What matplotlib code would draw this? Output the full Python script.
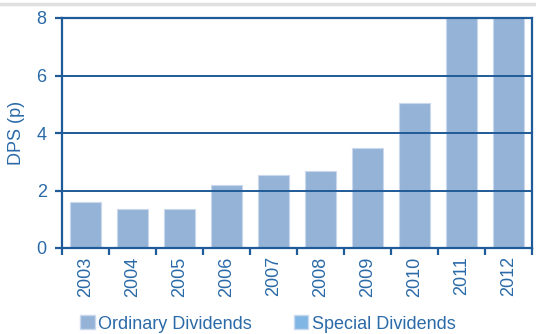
import matplotlib
matplotlib.use('Agg')
import matplotlib.pyplot as plt
from matplotlib.patches import Patch
from matplotlib.lines import Line2D

years = ['2003', '2004', '2005', '2006', '2007', '2008', '2009', '2010', '2011', '2012']
ordinary = [1.6, 1.35, 1.35, 2.2, 2.55, 2.68, 3.48, 5.05, 8.6, 8.6]
special = [0, 0, 0, 0, 0, 0, 0, 0, 0, 0]

plt.rcParams['font.family'] = ['Liberation Sans', 'DejaVu Sans']
blue = '#1f5b98'
txt = '#2a6aa8'

fig = plt.figure(figsize=(5.36, 3.34), dpi=100)
ax = fig.add_axes([62/536, 1 - 248/334, 470/536, 230/334])

x = range(len(years))
ax.bar(x, ordinary, width=0.68, color='#95b3d7', edgecolor='#c9d8ec', linewidth=0.8, zorder=1)
ax.bar(x, special, bottom=ordinary, width=0.68, color='#7fb6e3', linewidth=0, zorder=1)

ax.set_xlim(-0.5, 9.5)
ax.set_ylim(0, 8)
ax.set_yticks([0, 2, 4, 6, 8])
ax.yaxis.grid(True, color=blue, linewidth=1.4, zorder=3)
ax.set_axisbelow(False)
for s in ax.spines.values():
    s.set_color(blue)
    s.set_linewidth(1.6)
    s.set_zorder(4)

ax.set_xticks([i + 0.5 for i in range(-1, 10)], minor=False)
ax.set_xticklabels([])
ax.set_xticks(list(x), minor=True)
ax.set_xticklabels(years, minor=True, rotation=90)
ax.tick_params(axis='x', which='major', direction='out', length=5, width=1.6, color=blue)
ax.tick_params(axis='x', which='minor', length=0, pad=6, labelsize=13, labelcolor=txt)
ax.tick_params(axis='y', direction='out', length=5, width=1.6, color=blue, labelsize=13, labelcolor=txt, pad=6)
ax.set_ylabel('DPS (p)', color=txt, fontsize=13, labelpad=8)

fig.add_artist(Line2D([0, 1], [1 - 4/334, 1 - 4/334], color='#e0e0e0', linewidth=2.5))

handles = [Patch(facecolor='#95b3d7', edgecolor='#c9d8ec'),
           Patch(facecolor='#7fb6e3', edgecolor='#c9d8ec')]
fig.legend(handles, ['Ordinary Dividends', 'Special Dividends'], loc='center left',
           bbox_to_anchor=(64/536, 10/334), ncol=2, frameon=False, fontsize=13,
           labelcolor=txt, handlelength=0.8, handleheight=0.8, handletextpad=0.2,
           columnspacing=2.3)

fig.savefig('out.png', dpi=100)
